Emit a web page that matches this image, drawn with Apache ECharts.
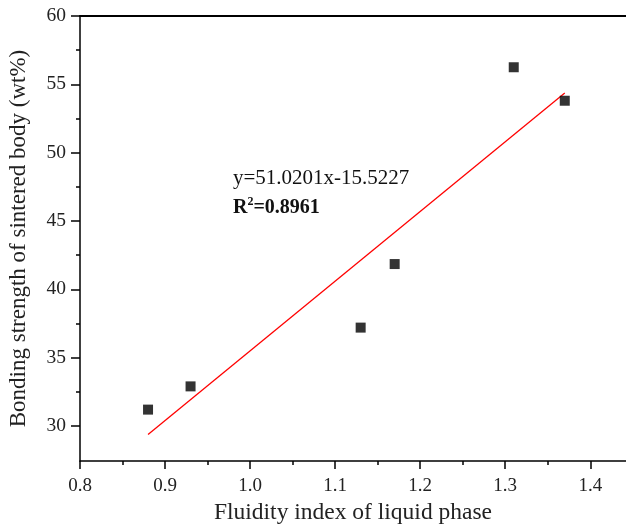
<!DOCTYPE html>
<html>
<head>
<meta charset="utf-8">
<script src="https://cdn.jsdelivr.net/npm/echarts@6/dist/echarts.min.js"></script>
<style>html,body{margin:0;padding:0;background:#fff;}#c{width:626px;height:525px;}</style>
</head>
<body>
<div id="c"></div>
<script>
// data
const xValues = [0.88, 0.93, 1.13, 1.17, 1.31, 1.37];
const yValues = [31.2, 32.9, 37.2, 41.85, 56.25, 53.8];
const fitX = [0.88, 1.37];
const fitY = [29.38, 54.37];
const xTicks = [0.8, 0.9, 1.0, 1.1, 1.2, 1.3, 1.4];
const xMinorTicks = [0.85, 0.95, 1.05, 1.15, 1.25, 1.35];
const yTicks = [30, 35, 40, 45, 50, 55, 60];
const yMinorTicks = [32.5, 37.5, 42.5, 47.5, 52.5, 57.5];
const xTitle = 'Fluidity index of liquid phase';
const yTitle = 'Bonding strength of sintered body (wt%)';
const eqText = 'y=51.0201x-15.5227';

const font = '"Liberation Serif", "Times New Roman", serif';
const chart = echarts.init(document.getElementById('c'));
const X_MIN = 0.8, X_MAX = 1.442, Y_MIN = 27.44, Y_MAX = 60;

chart.setOption({
  animation: false,
  grid: { left: 80, top: 16, bottom: 64, right: 0, outerBoundsMode: 'none', containLabel: false },
  xAxis: [{
    type: 'value', min: X_MIN, max: X_MAX, position: 'bottom',
    axisLine: { show: true, lineStyle: { color: '#000', width: 1.5 } },
    axisTick: { show: true, inside: false, length: 8, customValues: xTicks, lineStyle: { color: '#000', width: 1.5 } },
    axisLabel: { customValues: xTicks, color: '#222', fontFamily: font, fontSize: 19, margin: 16, formatter: v => v.toFixed(1) },
    splitLine: { show: false },
    name: xTitle, nameLocation: 'middle', nameGap: 39,
    nameTextStyle: { fontFamily: font, fontSize: 23.5, color: '#222' }
  }, {
    type: 'value', min: X_MIN, max: X_MAX, position: 'bottom',
    axisLine: { show: false },
    axisTick: { show: true, length: 4, customValues: xMinorTicks, lineStyle: { color: '#000', width: 1.5 } },
    axisLabel: { show: false },
    splitLine: { show: false }
  }, {
    type: 'value', min: X_MIN, max: X_MAX, position: 'top',
    axisLine: { show: true, lineStyle: { color: '#000', width: 2 } },
    axisTick: { show: false },
    axisLabel: { show: false },
    splitLine: { show: false }
  }],
  yAxis: [{
    type: 'value', min: Y_MIN, max: Y_MAX, position: 'left',
    axisLine: { show: true, lineStyle: { color: '#000', width: 1.5 } },
    axisTick: { show: true, inside: false, length: 9, customValues: yTicks, lineStyle: { color: '#000', width: 1.5 } },
    axisLabel: { customValues: yTicks, color: '#222', fontFamily: font, fontSize: 19.5, margin: 14 },
    splitLine: { show: false },
    name: yTitle, nameLocation: 'middle', nameGap: 50, nameRotate: 90,
    nameTextStyle: { fontFamily: font, fontSize: 23, color: '#222' }
  }, {
    type: 'value', min: Y_MIN, max: Y_MAX, position: 'left',
    axisLine: { show: false },
    axisTick: { show: true, length: 4, customValues: yMinorTicks, lineStyle: { color: '#000', width: 1.5 } },
    axisLabel: { show: false },
    splitLine: { show: false }
  }],
  series: [{
    type: 'line',
    data: fitX.map((x, i) => [x, fitY[i]]),
    symbol: 'none',
    lineStyle: { color: '#ff0000', width: 1.3 },
    z: 2
  }, {
    type: 'scatter',
    data: xValues.map((x, i) => [x, yValues[i]]),
    symbol: 'rect', symbolSize: 10,
    itemStyle: { color: '#000' },
    z: 3
  }],
  graphic: [{
    type: 'text', left: 233, top: 168,
    style: { text: eqText, fontFamily: font, fontSize: 21, fill: '#111' }
  }, {
    type: 'text', left: 233, top: 196,
    style: {
      text: '{b|R}{s|2}{b|=0.8961}',
      rich: {
        b: { fontFamily: font, fontSize: 20, fontWeight: 'bold', fill: '#111', verticalAlign: 'bottom' },
        s: { fontFamily: font, fontSize: 12, fontWeight: 'bold', fill: '#111', verticalAlign: 'top', padding: [0, 0, 10, 0] }
      }
    }
  }]
});
</script>
</body>
</html>
